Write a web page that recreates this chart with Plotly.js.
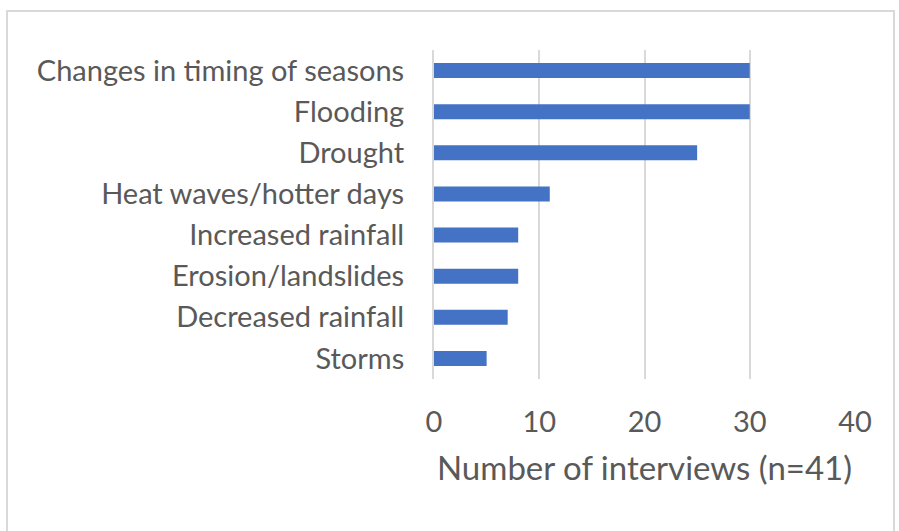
<!DOCTYPE html>
<html>
<head>
<meta charset="utf-8">
<script src="https://cdn.plot.ly/plotly-3.0.1.min.js"></script>
<style>
  html, body { margin: 0; padding: 0; background: #fff; }
  #wrap { position: relative; width: 899px; height: 531px; overflow: hidden; }
  #chart { width: 899px; height: 531px; }
  #frame { position: absolute; left: 6px; top: 10px; width: 889px; height: 540px;
           border: 2px solid #d9d9d9; box-sizing: border-box; pointer-events: none; }
</style>
</head>
<body>
<div id="wrap">
  <div id="chart"></div>
  <div id="frame"></div>
</div>
<script>
const categories = [
  "Changes in timing of seasons",
  "Flooding",
  "Drought",
  "Heat waves/hotter days",
  "Increased rainfall",
  "Erosion/landslides",
  "Decreased rainfall",
  "Storms"
];
const values = [30, 30, 25, 11, 8, 8, 7, 5];
const xTicks = [0, 10, 20, 30, 40];
const xTitle = "Number of interviews (n=41)";

const trace = {
  type: "bar",
  orientation: "h",
  y: categories,
  x: values,
  marker: { color: "#4472c4" },
  hoverinfo: "skip"
};

const font = { family: "Lato, 'Open Sans', sans-serif", color: "#595959" };

const layout = {
  width: 899,
  height: 531,
  margin: { l: 434, r: 44, t: 50, b: 152 },
  paper_bgcolor: "#ffffff",
  plot_bgcolor: "#ffffff",
  showlegend: false,
  bargap: 0.635,
  font: font,
  xaxis: {
    range: [0, 40],
    tickvals: xTicks,
    ticktext: xTicks.map(String),
    showgrid: true,
    gridcolor: "#d9d9d9",
    gridwidth: 2,
    zeroline: false,
    showline: false,
    ticks: "outside",
    ticklen: 17,
    tickcolor: "rgba(0,0,0,0)",
    tickfont: { family: font.family, size: 29, color: "#595959" },
    title: { text: xTitle, font: { family: font.family, size: 33, color: "#595959" }, standoff: 20 },
    fixedrange: true
  },
  yaxis: {
    autorange: "reversed",
    type: "category",
    showgrid: false,
    zeroline: false,
    showline: true,
    linecolor: "#d9d9d9",
    linewidth: 2,
    ticks: "outside",
    ticklen: 22,
    tickcolor: "rgba(0,0,0,0)",
    tickfont: { family: font.family, size: 29, color: "#595959" },
    fixedrange: true
  }
};

Plotly.newPlot("chart", [trace], layout, { displayModeBar: false, staticPlot: true });
</script>
</body>
</html>
